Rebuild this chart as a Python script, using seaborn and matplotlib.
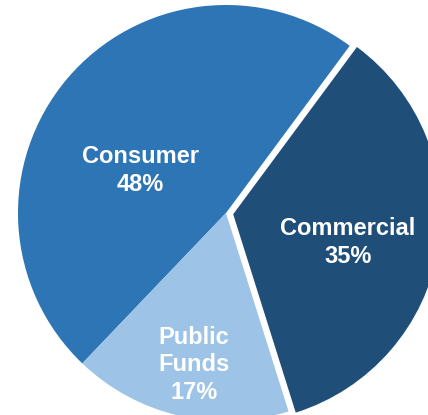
import matplotlib
matplotlib.use("Agg")
import matplotlib.pyplot as plt
import seaborn as sns

# Portfolio mix
categories = ["Consumer", "Public\nFunds", "Commercial"]
shares = [48, 17, 35]
colors = ["#2E75B6", "#9DC3E6", "#1F4E79"]
explode = [0, 0, 0.035]

sns.set_theme(style="white")
plt.rcParams["font.family"] = ["Liberation Sans", "DejaVu Sans"]

fig = plt.figure(figsize=(4.28, 4.15), dpi=100)
ax = fig.add_axes([0, 0, 1, 1])

wedges, _ = ax.pie(
    shares,
    colors=colors,
    explode=explode,
    startangle=53.5,
    counterclock=True,
    radius=1.0,
    wedgeprops=dict(linewidth=0),
)

# Label anchor points (pie units, centre at origin)
label_xy = [(-0.41, 0.205), (-0.155, -0.73), (0.587, -0.142)]
for name, val, (x, y) in zip(categories, shares, label_xy):
    ax.text(x, y, f"{name}\n{val}%", ha="center", va="center",
            color="white", fontsize=17, fontweight="bold",
            linespacing=1.27)

ax.set_xlim(-1.0865, 0.971)
ax.set_ylim(-0.971, 1.024)
ax.set_aspect("auto")
ax.axis("off")

fig.savefig("out.png", dpi=100)
